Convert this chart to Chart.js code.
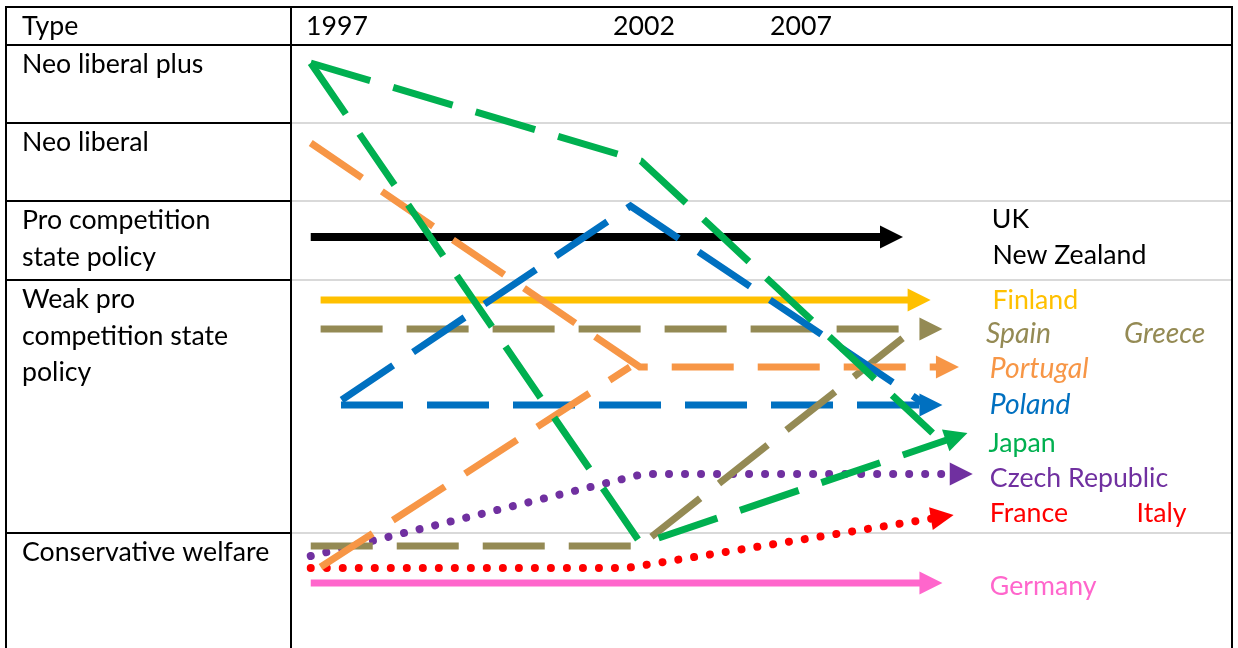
<!DOCTYPE html>
<html><head><meta charset="utf-8">
<script src="https://cdn.jsdelivr.net/npm/chart.js@4"></script>
<style>html,body{margin:0;padding:0;background:#fff}</style>
</head><body>
<canvas id="c" width="1238" height="648" style="display:block;width:1238px;height:648px"></canvas>
<script>
// ---------- table text ----------
const headerTitle = 'Type';
const headerYears = ['1997', '2002', '2007'];
const rowTypes = ['Neo liberal plus', 'Neo liberal', 'Pro competition\nstate policy', 'Weak pro\ncompetition state\npolicy', 'Conservative welfare'];
const rowTop = [60.3, 52.5, 44.7, 36.8, 11.5];      // level at top of each row
const rowBounds = [52.5, 44.7, 36.8, 11.5];         // row separators (level)

// ---------- series (x = year, y = policy level) ----------
const japanUpperX = [1997.0, 2002.02, 2006.45];
const japanUpperY = [58.5, 48.7, 21.5];
const japanLowerX = [1997.0, 2002.02, 2006.98];
const japanLowerY = [58.5, 10.4, 21.5];
const portugalX = [1997.0, 2002.0, 2006.85];
const portugalY = [50.5, 28.1, 28.1];
const portugalRiseX = [1997.15, 2001.85];
const portugalRiseY = [8.1, 28.1];
const polandX = [1997.46, 2006.6];
const polandY = [24.3, 24.3];
const polandPeakX = [1997.47, 2001.86, 2006.33];
const polandPeakY = [24.8, 44.2, 24.4];
const spainX = [1997.15, 2006.6];
const spainY = [31.9, 31.9];
const greeceX = [1997.0, 2002.0, 2006.0];
const greeceY = [10.2, 10.2, 31.0];
const finlandX = [1997.15, 2006.42];
const finlandY = [34.8, 34.8];
const ukX = [1997.0, 2006.0];
const ukY = [41.1, 41.1];
const czechX = [1997.0, 2002.05, 2007.06];
const czechY = [9.2, 17.4, 17.4];
const franceX = [1997.0, 2001.8, 2006.77];
const franceY = [8.0, 8.0, 13.3];
const germanyX = [1997.0, 2006.6];
const germanyY = [6.5, 6.5];

// ---------- country labels ----------
const labelText = ['UK', 'New Zealand', 'Finland', 'Spain', 'Greece', 'Portugal', 'Poland', 'Japan', 'Czech Republic', 'France', 'Italy', 'Germany'];
const labelX = [2007.35, 2007.36, 2007.36, 2007.26, 2009.36, 2007.32, 2007.32, 2007.30, 2007.32, 2007.32, 2009.55, 2007.32];
const labelY = [42.0, 38.4, 33.9, 30.5, 30.5, 27.0, 23.4, 19.6, 16.1, 12.6, 12.6, 5.3];
const labelColor = ['#000000', '#000000', '#ffc000', '#948a54', '#948a54', '#f79646', '#0070c0', '#00b050', '#7030a0', '#ff0000', '#ff0000', '#ff66cc'];
const labelItalic = [false, false, false, true, true, true, true, false, false, false, false, false];

const FONT = 'Lato, "Noto Sans", sans-serif';
const FS = 26.7, FS_IT = 28.3;
const zip = (xs, ys) => xs.map((x, i) => ({x, y: ys[i]}));
const DASH = [62, 24];
const DOT = [0.01, 16];

function ds(label, xs, ys, color, dash, arrow, width, cap) {
  return {
    label, data: zip(xs, ys), borderColor: color, backgroundColor: color,
    borderWidth: width || 7, borderDash: dash || [], borderCapStyle: cap || 'butt',
    borderJoinStyle: 'miter', pointRadius: 0, tension: 0, fill: false, arrow: !!arrow
  };
}

const datasets = [
  ds('Japan (a)', japanUpperX, japanUpperY, '#00b050', DASH, false),
  ds('Japan', japanLowerX, japanLowerY, '#00b050', DASH, true),
  ds('Poland (a)', polandPeakX, polandPeakY, '#0070c0', DASH, false),
  ds('Portugal', portugalX, portugalY, '#f79646', DASH, true),
  ds('Portugal (a)', portugalRiseX, portugalRiseY, '#f79646', DASH, false),
  ds('Greece', greeceX, greeceY, '#948a54', DASH, false),
  ds('Spain', spainX, spainY, '#948a54', DASH, true),
  ds('Poland', polandX, polandY, '#0070c0', DASH, true),
  ds('Czech Republic', czechX, czechY, '#7030a0', DOT, true, 8, 'round'),
  ds('France', franceX, franceY, '#ff0000', DOT, true, 8, 'round'),
  ds('Finland', finlandX, finlandY, '#ffc000', [], true),
  ds('UK', ukX, ukY, '#000000', [], true, 8),
  ds('Germany', germanyX, germanyY, '#ff66cc', [], true)
];

const HEAD = 23, HALF = 11.5;
const arrowPlugin = {
  id: 'arrows',
  afterDatasetsUpdate(chart) {
    chart.data.datasets.forEach((d, i) => {
      const meta = chart.getDatasetMeta(i);
      meta.$tip = null;
      if (!d.arrow) return;
      const pts = meta.data, n = pts.length;
      const T = pts[n - 1], P = pts[n - 2];
      const dx = T.x - P.x, dy = T.y - P.y, len = Math.hypot(dx, dy);
      const ux = dx / len, uy = dy / len;
      meta.$tip = {x: T.x, y: T.y, ux, uy, color: d.borderColor};
      T.x = T.x - ux * HEAD * 0.75;
      T.y = T.y - uy * HEAD * 0.75;
    });
  },
  afterDatasetsDraw(chart) {
    const ctx = chart.ctx;
    chart.data.datasets.forEach((d, i) => {
      const t = chart.getDatasetMeta(i).$tip;
      if (!t) return;
      const bx = t.x - t.ux * HEAD, by = t.y - t.uy * HEAD;
      const px = -t.uy, py = t.ux;
      ctx.save();
      ctx.fillStyle = t.color;
      ctx.beginPath();
      ctx.moveTo(t.x, t.y);
      ctx.lineTo(bx + px * HALF, by + py * HALF);
      ctx.lineTo(bx - px * HALF, by - py * HALF);
      ctx.closePath();
      ctx.fill();
      ctx.restore();
    });
  }
};

const tablePlugin = {
  id: 'table',
  beforeDraw(chart) {
    const ctx = chart.ctx;
    ctx.save();
    ctx.fillStyle = '#fff';
    ctx.fillRect(0, 0, chart.width, chart.height);
    ctx.restore();
  },
  afterDraw(chart) {
    const ctx = chart.ctx, a = chart.chartArea, ys = chart.scales.y, xs = chart.scales.x;
    const L = 6, T = 7, R = a.right, B = chart.height + 2;
    ctx.save();
    ctx.strokeStyle = '#000';
    ctx.lineWidth = 2;
    ctx.beginPath();
    ctx.moveTo(L, B); ctx.lineTo(L, T); ctx.lineTo(R, T); ctx.lineTo(R, B);
    ctx.moveTo(L, a.top); ctx.lineTo(R, a.top);
    ctx.moveTo(a.left, T); ctx.lineTo(a.left, B);
    rowBounds.forEach(v => {
      const y = Math.round(ys.getPixelForValue(v));
      ctx.moveTo(L, y); ctx.lineTo(a.left, y);
    });
    ctx.stroke();

    ctx.fillStyle = '#000';
    ctx.font = FS + 'px ' + FONT;
    ctx.textBaseline = 'alphabetic';
    ctx.textAlign = 'left';
    ctx.fillText(headerTitle, 22, 35);
    const yearPx = [306, 613, 770];
    headerYears.forEach((t, i) => ctx.fillText(t, yearPx[i], 35));
    rowTypes.forEach((t, i) => {
      const top = ys.getPixelForValue(rowTop[i]);
      t.split('\n').forEach((line, k) => ctx.fillText(line, 22, top + 28 + k * 36.5));
    });

    labelText.forEach((t, i) => {
      ctx.font = labelItalic[i] ? ('italic ' + FS_IT + 'px ' + FONT) : (FS + 'px ' + FONT);
      ctx.fillStyle = labelColor[i];
      ctx.fillText(t, xs.getPixelForValue(labelX[i]), ys.getPixelForValue(labelY[i]));
    });
    ctx.restore();
  }
};

new Chart(document.getElementById('c'), {
  type: 'line',
  data: {datasets},
  options: {
    responsive: false,
    animation: false,
    events: [],
    layout: {padding: {left: 291, right: 6, top: 45, bottom: 0}},
    plugins: {legend: {display: false}, tooltip: {enabled: false}},
    scales: {
      x: {type: 'linear', min: 1996.7, max: 2011.0, display: false},
      y: {
        type: 'linear', min: 0, max: 60.3,
        afterBuildTicks: axis => { axis.ticks = rowBounds.map(v => ({value: v})); },
        ticks: {display: false},
        border: {display: false},
        grid: {color: '#d9d9d9', lineWidth: 2, drawTicks: false}
      }
    }
  },
  plugins: [arrowPlugin, tablePlugin]
});
</script>
</body></html>
